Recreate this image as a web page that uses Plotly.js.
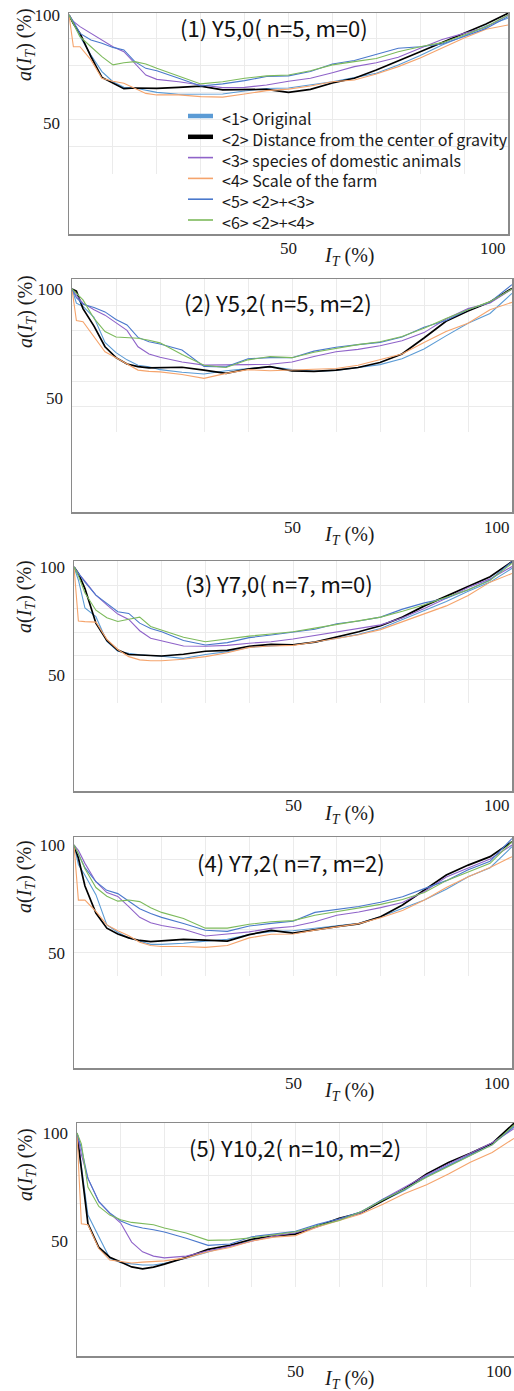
<!DOCTYPE html>
<html>
<head>
<meta charset="utf-8">
<script src="https://cdn.plot.ly/plotly-3.0.1.min.js"></script>
<style>
  html, body { margin: 0; padding: 0; background: #fff; }
  #chart { width: 514px; height: 1391px; }
</style>
</head>
<body>
<div id="chart"></div>
<script>
// I_T (%) sample positions shared by every curve
const it = [0, 1, 2.5, 5, 7.5, 10, 12.5, 15, 17.5, 20, 25, 30, 35, 40, 45, 50, 55, 60, 65, 70, 75, 80, 85, 90, 95, 100];

// Panel (1) Y5,0
const orig1  = [100, 96, 90, 81.5, 73.8, 69.1, 66.5, 66.2, 65.3, 64.2, 63.3, 63.4, 63.4, 64.8, 66, 66.2, 67.6, 69.1, 71, 73, 76.9, 81.2, 86.1, 90.3, 94.9, 98.5];
const dist1  = [100, 96, 91.5, 80.7, 71.1, 68.4, 65.9, 66.2, 66, 66, 66.5, 67.1, 65.3, 65.6, 65.6, 64.2, 65.6, 68.5, 70.7, 74.5, 78.9, 83, 87.3, 91.5, 95.8, 100.8];
const spec1  = [100, 97, 94.6, 91.5, 88.4, 85.3, 83, 77.6, 72.2, 70.2, 69.1, 67.6, 66.4, 66.5, 67.6, 69.3, 70.7, 73.3, 76.1, 77.9, 80.4, 84.6, 88.7, 91.5, 94.3, 100];
const scale1 = [100, 85.3, 85.3, 79.2, 70.7, 69.3, 68.4, 66, 63.7, 63, 63, 62.2, 62, 63.4, 65, 65.7, 67.1, 69.1, 69.9, 72.7, 76.1, 80.1, 84.6, 89.4, 93.4, 95.4];
const c23_1  = [100, 97, 91.5, 88.4, 86.9, 85, 83.8, 78.4, 75.3, 74.2, 70.7, 67.1, 68.1, 69.6, 71.5, 71.8, 73.8, 77.3, 78.9, 81.9, 84.6, 85.3, 86.6, 90, 93.8, 99.2];
const c24_1  = [100, 96, 90, 85.3, 80.7, 76.9, 77.9, 78.4, 77.3, 75.3, 71.8, 68.1, 69.1, 70.7, 71.8, 72.2, 74.2, 76.9, 78.4, 79.9, 83, 85.3, 87.2, 90.7, 94.6, 100];

// Panel (2) Y5,2
const orig2  = [100, 93.5, 92, 87, 75.5, 70.8, 67.5, 65, 64.3, 63, 61.8, 61, 62.5, 63.5, 64.4, 63, 62.2, 62.6, 63.8, 65.3, 68, 72.5, 78.5, 84.3, 88.8, 98];
const dist2  = [100, 99, 91, 83, 73.5, 68.5, 65.6, 64.4, 63.8, 63.8, 64.1, 62.8, 61.3, 63.3, 64.4, 62.4, 62.2, 62.8, 64, 66.3, 70.2, 77.5, 85.2, 89.9, 94, 100.3];
const spec2  = [100, 97, 93.5, 90.5, 88, 84.7, 81, 73.5, 70.2, 68.7, 66.5, 65.1, 65.1, 65.3, 65.5, 66.5, 69, 71.2, 72.3, 74, 76.3, 80, 86.2, 91, 93.6, 100];
const scale2 = [100, 85.5, 85, 78, 71.2, 68.5, 65.8, 62.8, 62.2, 62, 60.8, 59, 61.3, 63, 62.5, 62.8, 63, 63.5, 65, 67.5, 70.2, 75.5, 80.5, 84.3, 90.5, 93.9];
const c23_2  = [100, 96, 93, 91.5, 89.5, 86, 83.5, 77.8, 75.8, 74.8, 72, 64.5, 64.3, 68, 68.5, 68.5, 71.5, 73.3, 74.5, 75.5, 78, 82.5, 85.5, 90.5, 94, 102];
const c24_2  = [100, 98, 95, 86.5, 80.5, 78, 77.6, 77.4, 76.5, 75.3, 70, 65, 64, 67.5, 69, 68.5, 71, 72.7, 74.5, 75.8, 78.2, 82, 86.5, 90.5, 94.2, 100];

// Panel (3) Y7,0
const orig3  = [100, 94, 81, 77, 65.5, 61, 60, 59.3, 59, 58.7, 57.7, 59.5, 60.8, 62.8, 63.4, 64, 65.2, 67, 68.8, 71.5, 75.7, 80, 84, 88.8, 93, 99.4];
const dist3  = [100, 97, 90, 74, 66, 61.5, 59.5, 59.2, 58.8, 58.8, 59.6, 61, 61.4, 63.3, 64.2, 64, 65.2, 67.6, 70, 72.8, 76.8, 82, 86.5, 91.2, 95.5, 102.5];
const spec3  = [100, 97, 93.5, 87, 82.5, 78.2, 75.7, 70.5, 67, 65.7, 63.4, 63.3, 63.7, 64.7, 65.4, 66.7, 68.3, 69.8, 71.3, 73.2, 76.5, 80.8, 85.5, 90.5, 94.5, 100.2];
const scale3 = [100, 75, 74.7, 74.5, 66.5, 61.8, 58.5, 57, 56.6, 56.6, 57.3, 58.5, 60.3, 62.8, 63.4, 63.7, 65.3, 67, 68.6, 71, 74.6, 78.5, 82, 86.8, 93, 97];
const c23_3  = [100, 97, 93, 87, 83, 79.3, 78.5, 74, 71.5, 70, 66, 63.9, 65, 67.3, 68.5, 69.7, 71.2, 73.7, 75, 76.8, 80.5, 83.4, 85.5, 89.5, 94, 102.5];
const c24_3  = [100, 96, 88, 80, 76.5, 74.8, 75.8, 76.8, 72.5, 70.8, 67.5, 65.4, 66.8, 68, 69, 70, 71.7, 73.5, 75, 76.8, 79.5, 82.5, 86, 89.5, 93.8, 101.7];

// Panel (4) Y7,2
const orig4  = [100, 91, 86, 77, 63, 59.6, 57, 55.5, 54, 54, 54.5, 55.5, 56.3, 58.6, 59.9, 60.3, 61.4, 62.4, 63.8, 66.8, 70.5, 74.5, 79.5, 85.3, 89.5, 99.2];
const dist4  = [100, 94, 81, 68.5, 61.5, 58.8, 57, 55.8, 55.3, 55.6, 56.3, 56, 55.5, 58.5, 60.5, 59.2, 60.8, 62.2, 63.5, 66.8, 72.2, 79.2, 86.1, 90.7, 94.6, 101.5];
const spec4  = [100, 97.5, 91.5, 83, 78, 76.2, 71.5, 66.5, 64, 62.7, 61, 57.9, 58.8, 59.8, 61.4, 62.3, 64.5, 67.5, 69, 71, 73.4, 78.5, 85.2, 89.5, 93.5, 100];
const scale4 = [100, 74.5, 74.5, 69.3, 63, 60.3, 58, 55, 53.5, 53, 53, 52.6, 53.5, 57, 58.7, 58.8, 60.6, 62.2, 63.6, 66.3, 69.7, 74.5, 80.3, 85.3, 89.6, 94.6];
const c23_4  = [100, 96, 89.5, 83, 79, 77.5, 74, 70.5, 68.3, 66.5, 63.7, 60.5, 60, 62.5, 63.7, 64.7, 68.8, 70, 71.5, 73.5, 76, 79.8, 83.5, 88.5, 92.5, 103];
const c24_4  = [100, 96, 89, 80.3, 76.3, 74, 74.5, 73.8, 71, 68.8, 66, 61.5, 61.5, 63.3, 64.5, 65, 67.5, 69.2, 70.8, 72.5, 74.8, 78, 83.5, 87.5, 91.5, 101.5];

// Panel (5) Y10,2
const orig5  = [100, 85, 62, 52, 42, 40, 39.3, 38.9, 38.9, 39.7, 42, 45, 47.8, 50.3, 52, 53.5, 57, 60, 63.5, 68.5, 73.5, 80, 85, 90, 95, 103.5];
const dist5  = [100, 82, 58, 47, 42.5, 40.3, 38, 37.1, 37.9, 39.3, 42.4, 46.1, 48, 50.8, 52.3, 53.2, 57, 60.5, 63.1, 68.7, 74.2, 81, 86.3, 90.6, 95.2, 104.5];
const spec5  = [100, 90, 79, 68.2, 62.8, 58.3, 49.5, 45, 43, 42.2, 43, 45.5, 47.5, 50, 52.3, 53.8, 56.5, 60, 63.1, 69.3, 74.8, 80.6, 85.6, 90.6, 95.5, 102];
const scale5 = [100, 58, 57.5, 46.5, 41.2, 40.5, 39.8, 40.2, 40.4, 40.8, 42.2, 45, 47, 50, 51.8, 52.5, 56.5, 59.5, 62.5, 67, 72, 76, 81, 86.5, 91, 97.5];
const c23_5  = [100, 93, 79, 68.2, 63, 59.3, 57.2, 56, 55.2, 54.2, 51.3, 48, 48.6, 52, 53.2, 54.5, 57.7, 60.3, 63.5, 69.3, 74, 79.8, 84.8, 89.8, 94.5, 102.9];
const c24_5  = [100, 95, 75, 66, 62, 59.8, 58.6, 58.2, 57.5, 56, 53.7, 50.3, 50.5, 51.5, 52.8, 54.3, 57, 59.5, 63.5, 69, 74, 79.5, 84.5, 89.5, 94.5, 103.7];

const panelSeries = [
  [orig1, dist1, spec1, scale1, c23_1, c24_1],
  [orig2, dist2, spec2, scale2, c23_2, c24_2],
  [orig3, dist3, spec3, scale3, c23_3, c24_3],
  [orig4, dist4, spec4, scale4, c23_4, c24_4],
  [orig5, dist5, spec5, scale5, c23_5, c24_5]
];

const seriesNames = [
  '&lt;1&gt; Original',
  '&lt;2&gt; Distance from the center of gravity',
  '&lt;3&gt; species of domestic animals',
  '&lt;4&gt; Scale of the farm',
  '&lt;5&gt; &lt;2&gt;+&lt;3&gt;',
  '&lt;6&gt; &lt;2&gt;+&lt;4&gt;'
];
const panelTitles = [
  '(1) Y5,0( n=5, m=0)',
  '(2) Y5,2( n=5, m=2)',
  '(3) Y7,0( n=7, m=0)',
  '(4) Y7,2( n=7, m=2)',
  '(5) Y10,2( n=10, m=2)'
];
const yTickVals = [50, 100];
const yTickText = ['50', '100'];
const xTickVals = [50, 100];
const xTickText = ['50', '100'];

// styling
const colors = ['#5b9bd5', '#000000', '#8f63c9', '#f5a46c', '#4a78cc', '#7dba5c'];
const plotWidths = [1.1, 1.7, 1.1, 1.1, 1.1, 1.1];
const keyWidths = [4.5, 4.5, 1.6, 1.6, 1.6, 1.6];

// panel geometry in page pixels
const W = 514, H = 1391;
const geom = [
  { top: 13,   bottom: 234,  left: 69, right: 508, y100: 15,   k: 2.16, gridLow: 26.4, gridStep: 12.5,  tx: 274, ty: 27,   yt: 45 },
  { top: 279,  bottom: 512,  left: 72, right: 512, y100: 289,  k: 2.18, gridLow: 34.4, gridStep: 11.65, tx: 278, ty: 302,  yt: 312 },
  { top: 561,  bottom: 791,  left: 74, right: 512, y100: 567,  k: 2.16, gridLow: 37,   gridStep: 10.9,  tx: 279, ty: 583,  yt: 597 },
  { top: 837,  bottom: 1068, left: 74, right: 512, y100: 845,  k: 2.16, gridLow: 39.4, gridStep: 10.8,  tx: 291, ty: 862,  yt: 877 },
  { top: 1123, bottom: 1356, left: 77, right: 514, y100: 1133, k: 2.16, gridLow: 28.7, gridStep: 12.9,  tx: 295, ty: 1147, yt: 1165 }
];
// key block inside panel (1): one text block, line spacing 1.3 x 16px
const key = { lineX0: 188, lineX1: 213, textX: 220, firstRow: 118, rowGap: 20.8 };

const fx = v => v / W;
const fy = v => 1 - v / H;
const serif = 'Liberation Serif, Times New Roman, serif';
const gothic = 'Noto Sans CJK JP, Noto Sans, sans-serif';
const gridColor = '#ebebeb';
const frameColor = '#8a8a8a';

const layout = {
  width: W, height: H,
  margin: { l: 0, r: 0, t: 0, b: 0 },
  paper_bgcolor: '#ffffff',
  plot_bgcolor: 'rgba(0,0,0,0)',
  showlegend: false,
  annotations: [],
  shapes: []
};
const traces = [];

geom.forEach((g, i) => {
  const gi = i + 1, di = i + 6;
  const gs = gi === 1 ? '' : String(gi);
  const yMin = 100 - (g.bottom - g.y100) / g.k;
  const yMax = 100 + (g.y100 - g.top) / g.k;
  const gridBottomPx = g.y100 + (100 - g.gridLow) * g.k;
  const xDom = [fx(g.left), fx(g.right)];

  // background grid (covers only the upper part of the plot box)
  layout['xaxis' + gs] = {
    domain: xDom, range: [0, 100], anchor: 'y' + gs,
    showgrid: true, gridcolor: gridColor, gridwidth: 1, tick0: 0, dtick: 10,
    zeroline: false, showline: false, showticklabels: false, ticks: '', fixedrange: true
  };
  layout['yaxis' + gs] = {
    domain: [fy(gridBottomPx), fy(g.top)], range: [g.gridLow - 0.01, yMax], anchor: 'x' + gs,
    showgrid: true, gridcolor: gridColor, gridwidth: 1, tick0: g.gridLow, dtick: g.gridStep,
    zeroline: false, showline: false, showticklabels: false, ticks: '', fixedrange: true
  };
  traces.push({ x: [], y: [], xaxis: 'x' + gs, yaxis: 'y' + gs, mode: 'lines', showlegend: false, hoverinfo: 'skip' });

  // data axes with frame
  layout['xaxis' + di] = {
    domain: xDom, range: [0, 100], anchor: 'y' + di,
    showgrid: false, zeroline: false, showticklabels: false, ticks: '',
    showline: true, mirror: true, linecolor: frameColor, linewidth: 1.5, fixedrange: true
  };
  layout['yaxis' + di] = {
    domain: [fy(g.bottom), fy(g.top)], range: [yMin, yMax], anchor: 'x' + di,
    showgrid: false, zeroline: false,
    showline: true, mirror: true, linecolor: frameColor, linewidth: 1.5,
    tickmode: 'array', tickvals: yTickVals, ticktext: yTickText, ticks: '',
    ticklabelstandoff: 4,
    tickfont: { family: serif, size: 17, color: '#1a1a1a' }, fixedrange: true
  };

  panelSeries[i].forEach((ys, j) => {
    traces.push({
      x: it, y: ys, xaxis: 'x' + di, yaxis: 'y' + di,
      mode: 'lines', name: seriesNames[j], showlegend: false, hoverinfo: 'skip',
      line: { color: colors[j], width: plotWidths[j] }
    });
  });

  // panel caption
  layout.annotations.push({
    text: panelTitles[i], xref: 'paper', yref: 'paper', x: fx(g.tx), y: fy(g.ty),
    xanchor: 'center', yanchor: 'middle', showarrow: false,
    font: { family: gothic, size: 22, color: '#111' }
  });
  // y title
  layout.annotations.push({
    text: '<i>a</i>(<i>I</i><sub><i>T</i></sub>) (%)', textangle: -90,
    xref: 'paper', yref: 'paper', x: fx(26), y: fy(g.yt),
    xanchor: 'center', yanchor: 'middle', showarrow: false,
    font: { family: serif, size: 20, color: '#1a1a1a' }
  });
  // x tick labels under the frame
  xTickVals.forEach((v, t) => {
    layout.annotations.push({
      text: xTickText[t], xref: 'x' + di, yref: 'paper', x: v, y: fy(g.bottom + 15),
      xanchor: v === 100 ? 'right' : 'center', yanchor: 'middle', showarrow: false,
      font: { family: serif, size: 17, color: '#1a1a1a' }
    });
  });
  // x title
  layout.annotations.push({
    text: '<i>I</i><sub><i>T</i></sub> (%)', xref: 'paper', yref: 'paper',
    x: fx(349), y: fy(g.bottom + 23), xanchor: 'center', yanchor: 'middle', showarrow: false,
    font: { family: serif, size: 20, color: '#1a1a1a' }
  });
});

// series key drawn once inside panel (1)
seriesNames.forEach((n, j) => {
  const rowY = key.firstRow + j * key.rowGap;
  layout.shapes.push({
    type: 'line', xref: 'paper', yref: 'paper',
    x0: fx(key.lineX0), x1: fx(key.lineX1), y0: fy(rowY - 2), y1: fy(rowY - 2),
    line: { color: colors[j], width: keyWidths[j] }
  });
});
layout.annotations.push({
  text: seriesNames.join('<br>'), align: 'left',
  xref: 'paper', yref: 'paper', x: fx(key.textX),
  y: fy(key.firstRow + key.rowGap * (seriesNames.length - 1) / 2),
  xanchor: 'left', yanchor: 'middle', showarrow: false,
  font: { family: gothic, size: 16, color: '#1a1a1a' }
});

Plotly.newPlot('chart', traces, layout, { displayModeBar: false, staticPlot: true });
</script>
</body>
</html>
